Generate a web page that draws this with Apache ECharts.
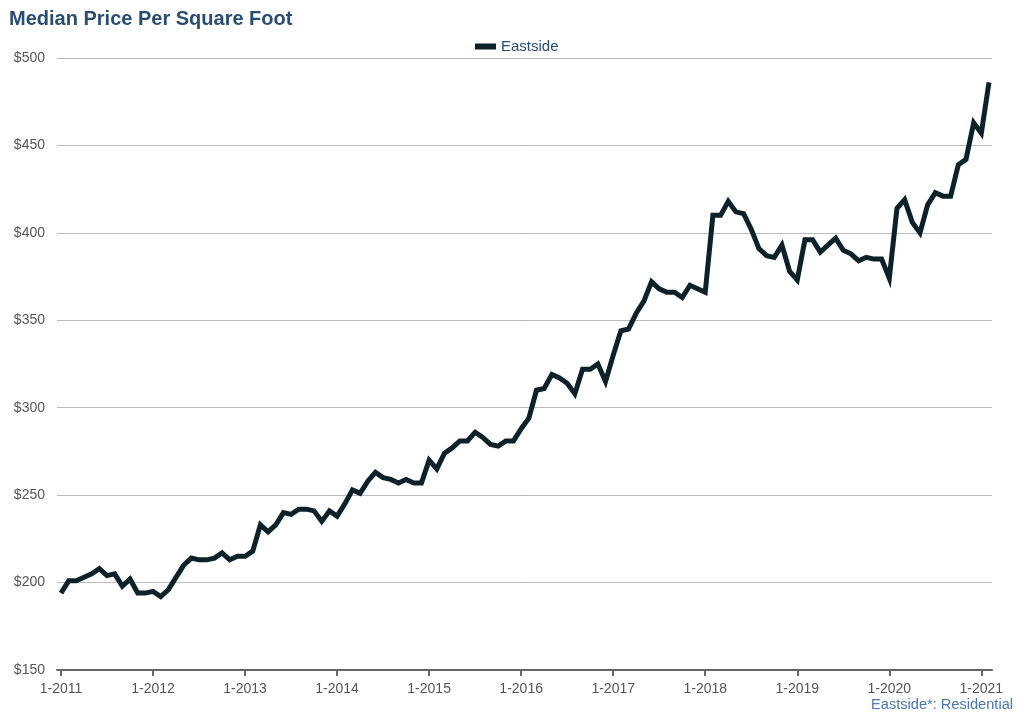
<!DOCTYPE html>
<html><head><meta charset="utf-8">
<script src="https://cdn.jsdelivr.net/npm/echarts@6/dist/echarts.min.js"></script>
<style>html,body{margin:0;padding:0;background:#fff}#c{width:1024px;height:718px}</style>
</head><body><div id="c"></div>
<script>
const values = [
 194,201,201,203,205,208,204,205,198,202,194,194,
 195,192,196,203,210,214,213,213,214,217,213,215,
 215,218,233,229,233,240,239,242,242,241,235,241,
 238,245,253,251,258,263,260,259,257,259,257,257,
 270,265,274,277,281,281,286,283,279,278,281,281,
 288,294,310,311,319,317,314,308,322,322,325,315,
 330,344,345,354,361,372,368,366,366,363,370,368,
 366,410,410,418,412,411,402,391,387,386,393,378,
 373,396,396,389,393,397,390,388,384,386,385,385,
 374,414,419,406,400,416,423,421,421,439,442,463,
 457,486
];
const categories = values.map((v,i)=> (i%12+1) + '-' + (2011 + Math.floor(i/12)));
const chart = echarts.init(document.getElementById('c'));
const ff = '"Liberation Sans", Arial, Helvetica, sans-serif';
chart.setOption({
  animation:false,
  textStyle:{fontFamily:ff},
  title:[{text:'Median Price Per Square Foot',left:4,top:4,textStyle:{fontSize:20,fontWeight:'bold',color:'#2a4d73',fontFamily:ff}},
         {text:'Eastside*: Residential',right:6,bottom:1,textStyle:{fontSize:14.6,fontWeight:'normal',color:'#4a78b0',fontFamily:ff}}],
  legend:{top:34,left:470,itemWidth:21,itemHeight:6,icon:'rect',itemGap:6,
    textStyle:{fontSize:15,color:'#2a4d73'},data:['Eastside']},
  grid:[{left:61,right:35,top:58,bottom:48,containLabel:false},
        {left:57,right:32,top:58,bottom:48,containLabel:false}],
  xAxis:[{type:'category',data:categories,boundaryGap:false,gridIndex:0,
    axisLine:{show:false},
    axisTick:{show:true,length:6,lineStyle:{color:'#666',width:2},interval:(i)=>i%12===0},
    axisLabel:{interval:(i)=>i%12===0,color:'#555',fontSize:14,margin:12,formatter:(v)=>v},
    splitLine:{show:false}},
    {type:'value',gridIndex:1,min:0,max:1,axisLabel:{show:false},axisTick:{show:false},splitLine:{show:false},
     axisLine:{show:true,lineStyle:{color:'#666',width:2}}}],
  yAxis:[{type:'value',min:150,max:500,interval:50,gridIndex:0,
    axisLine:{show:false},axisTick:{show:false},axisLabel:{show:false},splitLine:{show:false}},
    {type:'value',min:150,max:500,interval:50,gridIndex:1,
    axisLine:{show:false},axisTick:{show:false},
    axisLabel:{color:'#555',fontSize:14,margin:12,formatter:(v)=>'$'+v},
    splitLine:{lineStyle:{color:'#bbb',width:1}}}],
  series:[{name:'Eastside',type:'line',data:values,symbol:'none',xAxisIndex:0,yAxisIndex:0,z:5,
    lineStyle:{color:'#0c2129',width:5,join:'miter'},itemStyle:{color:'#0c2129'}}]
});
</script></body></html>
